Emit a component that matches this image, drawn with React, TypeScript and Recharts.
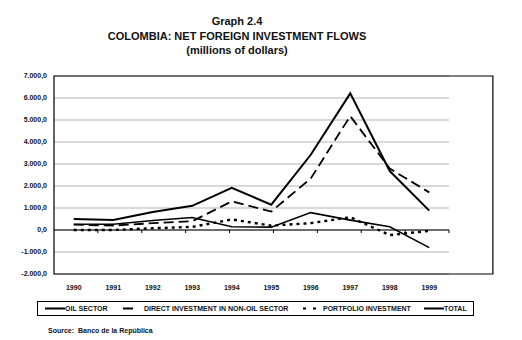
import React from 'react';
import {
  LineChart,
  Line,
  XAxis,
  YAxis,
  CartesianGrid,
  ReferenceLine,
  ReferenceArea,
} from 'recharts';

const years = ['1990', '1991', '1992', '1993', '1994', '1995', '1996', '1997', '1998', '1999'];
const oilSector = [260, 260, 430, 570, 150, 130, 790, 450, 150, -800];
const directNonOil = [240, 200, 310, 400, 1300, 840, 2340, 5180, 2790, 1710];
const portfolio = [0, 0, 80, 140, 480, 200, 310, 580, -230, -40];
const total = [500, 460, 820, 1100, 1920, 1150, 3420, 6210, 2680, 880];
const yTicks = [-2000, -1000, 0, 1000, 2000, 3000, 4000, 5000, 6000, 7000];

const data = years.map((year, i) => ({
  year,
  oil: oilSector[i],
  direct: directNonOil[i],
  portfolio: portfolio[i],
  total: total[i],
}));

const FONT = '"Liberation Sans", Arial, sans-serif';

const series = [
  { key: 'oil', label: 'OIL SECTOR', dash: undefined, width: 1.6 },
  { key: 'direct', label: 'DIRECT INVESTMENT IN NON-OIL SECTOR', dash: '10 5', width: 1.8 },
  { key: 'portfolio', label: 'PORTFOLIO INVESTMENT', dash: '3 4', width: 2.4 },
  { key: 'total', label: 'TOTAL', dash: undefined, width: 2 },
];
// legend icon placement inside the box
const legendIcons = [
  { left: 7, width: 20, dash: undefined, textLeft: 27 },
  { left: 85, width: 10, dash: undefined, textLeft: 106 },
  { left: 265, width: 13, dash: '3 7', textLeft: 285 },
  { left: 386, width: 20, dash: undefined, textLeft: 406 },
];

const boundaries = [1, 2, 3, 4, 5, 6, 7, 8, 9];

const fmt = (v: number) =>
  `${v < 0 ? '-' : ''}${String(Math.abs(v)).replace(/\B(?=(\d{3})+(?!\d))/g, '.')},0`;

export default function App() {
  return (
    <div
      style={{
        position: 'absolute',
        left: 0,
        top: 0,
        width: 522,
        height: 340,
        background: '#fff',
        fontFamily: FONT,
        color: '#111',
      }}
    >
      {/* title */}
      <div
        style={{
          position: 'absolute',
          left: 0,
          top: 14,
          width: 474,
          textAlign: 'center',
          fontWeight: 'bold',
          fontSize: 11,
          lineHeight: '14.5px',
        }}
      >
        <div>Graph 2.4</div>
        <div>COLOMBIA: NET FOREIGN INVESTMENT FLOWS</div>
        <div>(millions of dollars)</div>
      </div>

      <LineChart
        width={522}
        height={340}
        data={data}
        margin={{ top: 76, right: 73, bottom: 46, left: 4 }}
        style={{ position: 'absolute', left: 0, top: 0 }}
      >
        <CartesianGrid vertical={false} stroke="#b4b4b4" strokeWidth={1} />
        <XAxis
          dataKey="year"
          height={20}
          padding={{ left: 19.75, right: 19.75 }}
          axisLine={false}
          tickLine={false}
          tickMargin={5}
          tick={{ fontSize: 7, fontWeight: 'bold', fill: '#111', fontFamily: FONT }}
          interval={0}
        />
        <XAxis xAxisId="grid" type="number" domain={[0, 10]} hide />
        <YAxis
          width={50}
          domain={[-2000, 7000]}
          ticks={yTicks}
          interval={0}
          axisLine={false}
          tickLine={false}
          tickMargin={1}
          tickFormatter={fmt}
          tick={{ fontSize: 7, fontWeight: 'bold', fill: '#111', fontFamily: FONT }}
        />
        <ReferenceArea
          xAxisId="grid"
          x1={0}
          x2={10}
          y1={-2000}
          y2={7000}
          fill="none"
          stroke="#000"
          strokeWidth={1.2}
          ifOverflow="visible"
        />
        <ReferenceLine y={0} stroke="#000" strokeWidth={1.2} />
        {boundaries.map((b) => (
          <ReferenceLine
            key={b}
            xAxisId="grid"
            segment={[
              { x: b, y: 0 },
              { x: b, y: -140 },
            ]}
            stroke="#000"
            strokeWidth={1}
            ifOverflow="visible"
          />
        ))}
        {series.map((s) => (
          <Line
            key={s.key}
            type="linear"
            dataKey={s.key}
            stroke="#000"
            strokeWidth={s.width}
            strokeDasharray={s.dash}
            dot={false}
            isAnimationActive={false}
          />
        ))}
      </LineChart>

      {/* legend */}
      <div
        style={{
          position: 'absolute',
          left: 37,
          top: 301,
          width: 435,
          height: 13,
          border: '1.2px solid #000',
          fontSize: 7,
          fontWeight: 'bold',
        }}
      >
        {series.map((s, i) => (
          <React.Fragment key={s.key}>
            <svg
              style={{ position: 'absolute', left: legendIcons[i].left, top: 0 }}
              width={legendIcons[i].width}
              height={13}
            >
              <line
                x1={0}
                x2={legendIcons[i].width}
                y1={6.5}
                y2={6.5}
                stroke="#000"
                strokeWidth={2}
                strokeDasharray={legendIcons[i].dash}
              />
            </svg>
            <span
              style={{
                position: 'absolute',
                left: legendIcons[i].textLeft,
                top: 0,
                lineHeight: '13px',
                whiteSpace: 'nowrap',
              }}
            >
              {s.label}
            </span>
          </React.Fragment>
        ))}
      </div>

      {/* source */}
      <div
        style={{
          position: 'absolute',
          left: 48,
          top: 327,
          fontSize: 7,
          fontWeight: 'bold',
          whiteSpace: 'pre',
        }}
      >
        {'Source:  Banco de la República'}
      </div>
    </div>
  );
}
